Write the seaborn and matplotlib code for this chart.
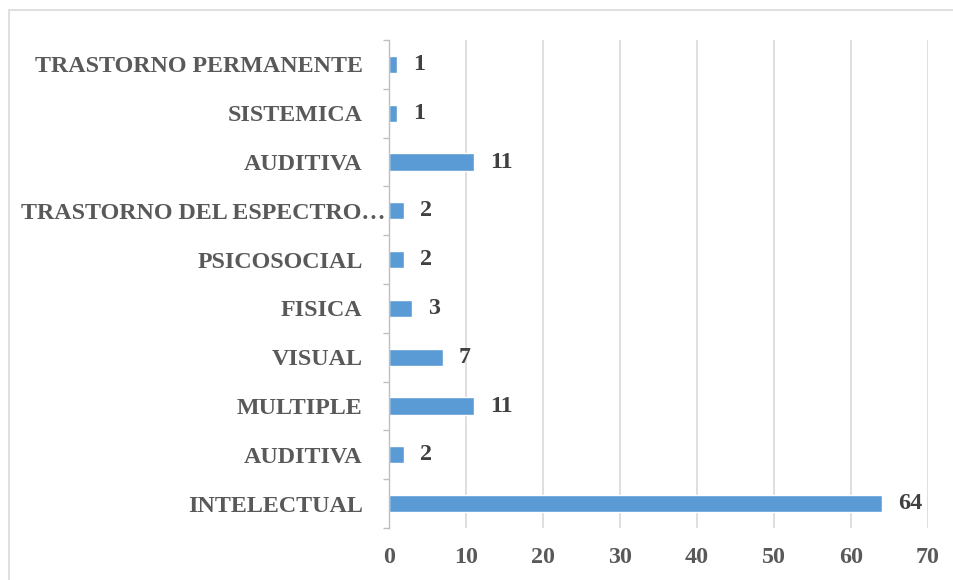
import matplotlib
matplotlib.use("Agg")
import matplotlib.pyplot as plt
import matplotlib.transforms as mtransforms
from matplotlib.patches import Rectangle
import seaborn as sns
import pandas as pd

categories = ["TRASTORNO PERMANENTE", "SISTEMICA", "AUDITIVA",
              "TRASTORNO DEL ESPECTRO…", "PSICOSOCIAL", "FISICA",
              "VISUAL", "MULTIPLE", "AUDITIVA", "INTELECTUAL"]
values = [1, 1, 11, 2, 2, 3, 7, 11, 2, 64]
x_ticks = [0, 10, 20, 30, 40, 50, 60, 70]

sns.set_theme(style="white")
plt.rcParams["font.family"] = ["Liberation Serif", "DejaVu Serif"]

keys = [f"k{i}" for i in range(len(categories))]
df = pd.DataFrame({"key": keys, "value": values})

fig = plt.figure(figsize=(9.54, 5.8), dpi=100)
ax = fig.add_axes([389 / 954, 1 - 528 / 580, (928 - 389) / 954, (528 - 40) / 580])

sns.barplot(data=df, x="value", y="key", order=keys, orient="h",
            color="#5B9BD5", saturation=1, width=0.35, ax=ax)

ax.set_xlim(0, 70)
ax.set_ylim(len(keys) - 0.5, -0.5)
ax.set_xlabel("")
ax.set_ylabel("")

txt_kw = dict(fontsize=17.3, fontweight="bold", color="#595959")
ax.set_xticks(x_ticks)
ax.set_xticklabels([str(t) for t in x_ticks], **txt_kw)
ax.set_yticks(range(len(keys)))
ax.set_yticklabels(categories, **txt_kw)
ax.set_yticks([i - 0.5 for i in range(len(keys) + 1)], minor=True)

ax.tick_params(axis="x", length=0, pad=13.5)
ax.tick_params(axis="y", which="major", length=0, pad=19)
ax.tick_params(axis="y", which="minor", length=4.3, width=1, color="#BFBFBF", left=True)

# long truncated label overhangs toward the axis like the original
tk = ax.yaxis.get_major_ticks()[3]
tk.label1.set_transform(tk.label1.get_transform() +
                        mtransforms.ScaledTranslation(23 / 100, 0, fig.dpi_scale_trans))

ax.xaxis.grid(True, color="#D9D9D9", linewidth=1.2)
ax.yaxis.grid(False)
ax.set_axisbelow(True)
for s in ["top", "right", "bottom"]:
    ax.spines[s].set_visible(False)
ax.spines["left"].set_color("#BFBFBF")
ax.spines["left"].set_linewidth(1)

for cont in ax.containers:
    labs = ax.bar_label(cont, labels=[str(v) for v in values], padding=11.5,
                        fontsize=17.3, fontweight="bold", color="#404040")
    for t in labs:
        t.set_transform(t.get_transform() +
                        mtransforms.ScaledTranslation(0, -1.5 / 100, fig.dpi_scale_trans))

# outer chart border
fig.patches.append(Rectangle((9 / 954, -0.1), 1.2, 1 - 10 / 580 + 0.1,
                             transform=fig.transFigure, fill=False,
                             edgecolor="#D9D9D9", linewidth=1.2))

fig.savefig("out.png", dpi=100)
